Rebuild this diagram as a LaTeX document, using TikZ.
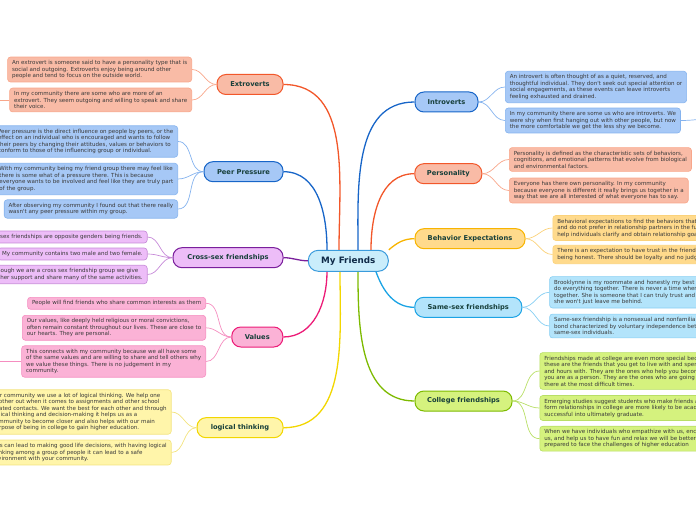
\documentclass[tikz,border=0pt]{standalone}
\usepackage{fontspec}
\newfontfamily\mapfont{DejaVu Sans}
\definecolor{salmonfill}{HTML}{F9BBA6}
\definecolor{salmonline}{HTML}{F2572A}
\definecolor{salmontwig}{HTML}{F8A68A}
\definecolor{bluefill}{HTML}{A6C8F6}
\definecolor{blueline}{HTML}{1765C8}
\definecolor{bluetwig}{HTML}{85B3EE}
\definecolor{lilacfill}{HTML}{EDBDF8}
\definecolor{lilacline}{HTML}{7A1F9C}
\definecolor{lilactwig}{HTML}{C689D8}
\definecolor{pinkfill}{HTML}{FBB2D6}
\definecolor{pinkline}{HTML}{EC1B77}
\definecolor{pinktwig}{HTML}{F58DC0}
\definecolor{lemonfill}{HTML}{FFF5AA}
\definecolor{lemonline}{HTML}{F2D600}
\definecolor{lemontwig}{HTML}{F3E37E}
\definecolor{amberfill}{HTML}{FFDA8C}
\definecolor{amberline}{HTML}{F8B400}
\definecolor{ambertwig}{HTML}{FBD27A}
\definecolor{cyanfill}{HTML}{B3E4FB}
\definecolor{cyanline}{HTML}{1BA3E4}
\definecolor{cyantwig}{HTML}{88CFF3}
\definecolor{limefill}{HTML}{D5F27E}
\definecolor{limeline}{HTML}{7DBA00}
\definecolor{limetwig}{HTML}{B8DF66}
\definecolor{rootfill}{HTML}{CAEDFB}
\definecolor{rootline}{HTML}{3A9BDC}
\definecolor{topictext}{HTML}{173F3A}
\definecolor{roottext}{HTML}{0F2A48}
\definecolor{notetext}{HTML}{3A3A3A}
\begin{document}
\begin{tikzpicture}[x=1pt,y=1pt,
	topic/.style={rounded corners=9pt,line width=1pt,minimum height=20pt,inner sep=0pt,text=topictext,font=\mapfont\fontsize{6.7}{8}\selectfont\bfseries},
	note/.style={rounded corners=3pt,line width=0.6pt,align=left,inner xsep=4.5pt,inner ysep=3.3pt,text=notetext,font=\mapfont\fontsize{5.55}{6.5}\selectfont},
	main/.style={line width=1.3pt},
	twig/.style={line width=0.7pt},
	salmon/.style={fill=salmonfill,draw=#1},salmon/.default=salmonline,
	blue/.style={fill=bluefill,draw=#1},blue/.default=blueline,
	lilac/.style={fill=lilacfill,draw=#1},lilac/.default=lilacline,
	pinky/.style={fill=pinkfill,draw=#1},pinky/.default=pinkline,
	lemon/.style={fill=lemonfill,draw=#1},lemon/.default=lemonline,
	amber/.style={fill=amberfill,draw=#1},amber/.default=amberline,
	cyanic/.style={fill=cyanfill,draw=#1},cyanic/.default=cyanline,
	lime/.style={fill=limefill,draw=#1},lime/.default=limeline]
	\useasboundingbox (0,0) rectangle (696,520);
	\clip (0,0) rectangle (696,520);
	\node[topic,fill=rootfill,draw=rootline,text=roottext,minimum width=80pt,minimum height=21pt,rounded corners=10pt,font=\mapfont\fontsize{8.8}{10}\selectfont\bfseries] (root) at (348.3,259.2) {My Friends};
	\node[topic,salmon,minimum width=66pt] (extro) at (250,435.5) {Extroverts};
	\node[topic,blue,minimum width=79pt] (peer) at (243.5,348.3) {Peer Pressure};
	\node[topic,lilac,minimum width=110pt] (cross) at (228,262.3) {Cross-sex friendships};
	\node[topic,pinky,minimum width=51pt] (values) at (257.3,183) {Values};
	\node[topic,lemon,minimum width=86pt] (logic) at (240,92.3) {logical thinking};
	\node[topic,blue,minimum width=63pt] (intro) at (446.5,418) {Introverts};
	\node[topic,salmon,minimum width=67pt] (pers) at (448.3,346.3) {Personality};
	\node[topic,amber,minimum width=110pt] (behav) at (470,281.3) {Behavior Expectations};
	\node[topic,cyanic,minimum width=107pt] (same) at (468.3,212.7) {Same-sex friendships};
	\node[topic,lime,minimum width=97pt] (college) at (463.5,119) {College friendships};

	\node[note,salmon=salmontwig,anchor=east] (e1) at (192,450.5) {An extrovert is someone said to have a personality type that is\\social and outgoing. Extroverts enjoy being around other\\people and tend to focus on the outside world.};
	\node[note,salmon=salmontwig,anchor=east] (e2) at (192,420) {In my community there are some who are more of an\\extrovert. They seem outgoing and willing to speak and share\\their voice.};
	\node[note,blue=bluetwig,anchor=east] (p1) at (178,378.5) {Peer pressure is the direct influence on people by peers, or the\\effect on an individual who is encouraged and wants to follow\\their peers by changing their attitudes, values or behaviors to\\conform to those of the influencing group or individual.};
	\node[note,blue=bluetwig,anchor=east] (p2) at (178,341) {With my community being my friend group there may feel like\\there is some what of a pressure there. This is because\\everyone wants to be involved and feel like they are truly part\\of the group.};
	\node[note,blue=bluetwig,anchor=east] (p3) at (178,311) {After observing my community I found out that there really\\wasn't any peer pressure within my group.};
	\node[note,lilac=lilactwig,anchor=east] (c1) at (147.5,283) {Cross-sex friendships are opposite genders being friends.};
	\node[note,lilac=lilactwig,anchor=east] (c2) at (147.5,266) {My community contains two male and two female.};
	\node[note,lilac=lilactwig,anchor=east] (c3) at (147.5,245.5) {Even though we are a cross sex friendship group we give\\each other support and share many of the same activities.};
	\node[note,pinky=pinktwig,anchor=east] (v1) at (206,216.7) {People will find friends who share common interests as them};
	\node[note,pinky=pinktwig,anchor=east] (v2) at (206,192.2) {Our values, like deeply held religious or moral convictions,\\often remain constant throughout our lives. These are close to\\our hearts. They are personal.};
	\node[note,pinky=pinktwig,anchor=east] (v3) at (206,158.5) {This connects with my community because we all have some\\of the same values and are willing to share and tell others why\\we value these things. There is no judgement in my\\community.};
	\node[note,lemon=lemontwig,anchor=east] (l1) at (171.5,108) {Our community we use a lot of logical thinking. We help one\\another out when it comes to assignments and other school\\related contacts. We want the best for each other and through\\logical thinking and decision-making it helps us as a\\community to become closer and also helps with our main\\purpose of being in college to gain higher education.};
	\node[note,lemon=lemontwig,anchor=east] (l2) at (171.5,67.5) {This can lead to making good life decisions, with having logical\\thinking among a group of people it can lead to a safe\\environment with your community.};

	\node[note,blue=bluetwig,anchor=west] (i1) at (505,433) {An introvert is often thought of as a quiet, reserved, and\\thoughtful individual. They don't seek out special attention or\\social engagements, as these events can leave introverts\\feeling exhausted and drained.};
	\node[note,blue=bluetwig,anchor=west] (i2) at (505,399.5) {In my community there are some us who are introverts. We\\were shy when first hanging out with other people, but now\\the more comfortable we get the less shy we become.};
	\node[note,salmon=salmontwig,anchor=west] (pe1) at (509,360.5) {Personality is defined as the characteristic sets of behaviors,\\cognitions, and emotional patterns that evolve from biological\\and environmental factors.};
	\node[note,salmon=salmontwig,anchor=west] (pe2) at (509,329.5) {Everyone has there own personality. In my community\\because everyone is different it really brings us together in a\\way that we are all interested of what everyone has to say.};
	\node[note,amber=ambertwig,anchor=west] (b1) at (552.5,292) {Behavioral expectations to find the behaviors that individuals prefer\\and do not prefer in relationship partners in the future. This can\\help individuals clarify and obtain relationship goals.};
	\node[note,amber=ambertwig,anchor=west] (b2) at (552.5,265.5) {There is an expectation to have trust in the friendship and\\being honest. There should be loyalty and no judgement.};
	\node[note,cyanic=cyantwig,anchor=west] (ss1) at (549.3,227.7) {Brooklynne is my roommate and honestly my best friend. We\\do everything together. There is never a time when we are not\\together. She is someone that I can truly trust and I know\\she won't just leave me behind.};
	\node[note,cyanic=cyantwig,anchor=west] (ss2) at (549.3,194) {Same-sex friendship is a nonsexual and nonfamilial\\bond characterized by voluntary independence between\\same-sex individuals.};
	\node[note,lime=limetwig,anchor=west] (cf1) at (539.5,149) {Friendships made at college are even more special because\\these are the friends that you get to live with and spend days\\and hours with. They are the ones who help you become who\\you are as a person. They are the ones who are going to be\\there at the most difficult times.};
	\node[note,lime=limetwig,anchor=west] (cf2) at (539.5,112) {Emerging studies suggest students who make friends and\\form relationships in college are more likely to be academically\\successful into ultimately graduate.};
	\node[note,lime=limetwig,anchor=west] (cf3) at (539.5,81.3) {When we have individuals who empathize with us, encourage\\us, and help us to have fun and relax we will be better\\prepared to face the challenges of higher education};

	\coordinate (e2tail) at (-12,420);
	\coordinate (v3tail) at (-12,158.5);
	\coordinate (i2tail) at (720,402);

	\draw[main,blueline] ([xshift=-21.3pt]root.north) to[out=90,in=0] (peer.east);
	\draw[main,salmonline] ([xshift=-9.3pt]root.north) to[out=90,in=0] (extro.east);
	\draw[main,blueline] ([xshift=9.7pt]root.north) to[out=90,in=180] (intro.west);
	\draw[main,salmonline] ([xshift=22.7pt]root.north) to[out=90,in=180] (pers.west);
	\draw[main,amberline] (root.north east) to[out=40,in=180] (behav.west);
	\draw[main,lilacline] (root.west) to[out=180,in=0] (cross.east);
	\draw[main,pinkline] ([xshift=-21.3pt]root.south) to[out=-90,in=0] (values.east);
	\draw[main,lemonline] ([xshift=-8.3pt]root.south) to[out=-90,in=0] (logic.east);
	\draw[main,limeline] ([xshift=9.7pt]root.south) to[out=-90,in=180] (college.west);
	\draw[main,cyanline] ([xshift=27.7pt]root.south) to[out=-70,in=180] (same.west);

	\foreach \n in {e1,e2} \draw[twig,salmontwig] (extro.west) to[out=180,in=0] (\n.east);
	\foreach \n in {p1,p2,p3} \draw[twig,bluetwig] (peer.west) to[out=180,in=0] (\n.east);
	\foreach \n in {c1,c2,c3} \draw[twig,lilactwig] (cross.west) to[out=180,in=0] (\n.east);
	\foreach \n in {v1,v2,v3} \draw[twig,pinktwig] (values.west) to[out=180,in=0] (\n.east);
	\foreach \n in {l1,l2} \draw[twig,lemontwig] (logic.west) to[out=180,in=0] (\n.east);
	\foreach \n in {i1,i2} \draw[twig,bluetwig] (intro.east) to[out=0,in=180] (\n.west);
	\foreach \n in {pe1,pe2} \draw[twig,salmontwig] (pers.east) to[out=0,in=180] (\n.west);
	\foreach \n in {b1,b2} \draw[twig,ambertwig] (behav.east) to[out=0,in=180] (\n.west);
	\foreach \n in {ss1,ss2} \draw[twig,cyantwig] (same.east) to[out=0,in=180] (\n.west);
	\foreach \n in {cf1,cf2,cf3} \draw[twig,limetwig] (college.east) to[out=0,in=180] (\n.west);
	\draw[twig,salmontwig] (e2.west) -- (e2tail);
	\draw[twig,pinktwig] (v3.west) -- (v3tail);
	\draw[twig,bluetwig] (i2.east) to[out=0,in=180] (i2tail);
\end{tikzpicture}
\end{document}
